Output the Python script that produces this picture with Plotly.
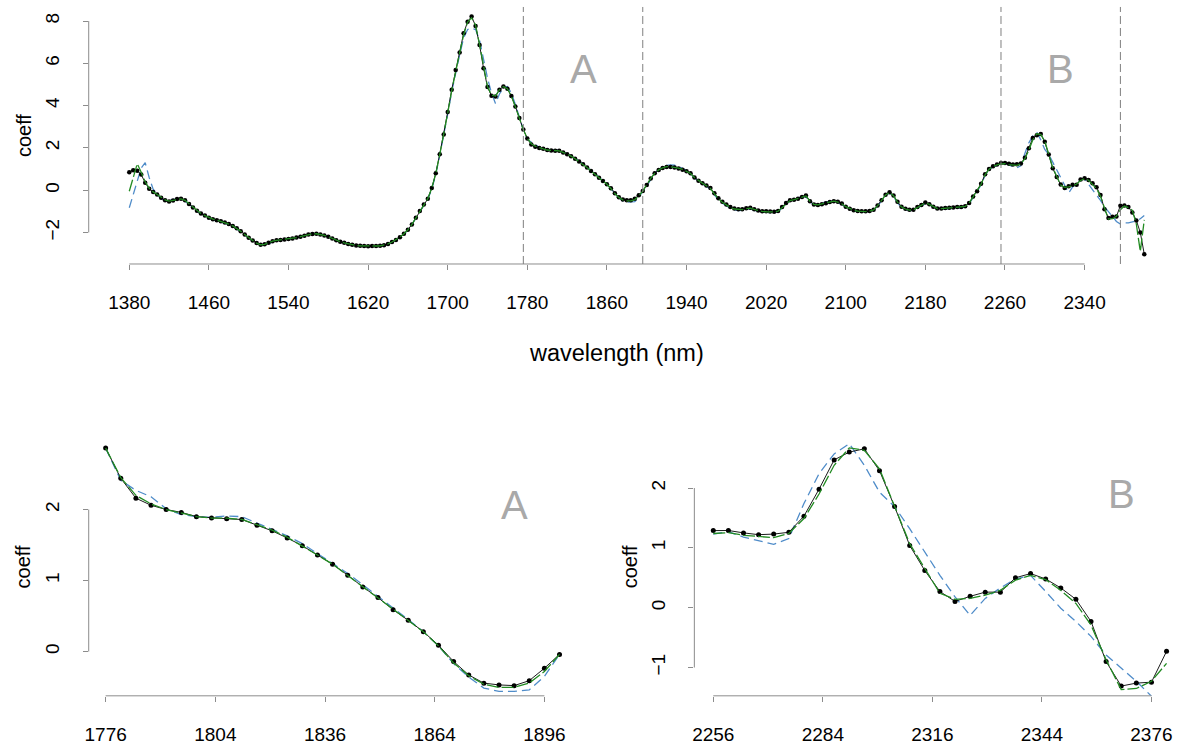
import plotly.graph_objects as go

W, H = 1182, 745

# ---------------- data ----------------
# wavelengths (nm), sampled every 4 nm
top_wl = list(range(1380, 2404, 4))          # 1380 .. 2400
A_wl = list(range(1776, 1900, 4))            # 1776 .. 1896
B_wl = list(range(2256, 2380, 4))            # 2256 .. 2376

top_xticks = [1380, 1460, 1540, 1620, 1700, 1780, 1860, 1940, 2020, 2100, 2180, 2260, 2340]
top_yticks = [-2, 0, 2, 4, 6, 8]
A_tickvals = [1776, 1805, 1834, 1863, 1892]
A_ticktext = ["1776", "1804", "1836", "1864", "1896"]
A_yticks = [0, 1, 2]
B_tickvals = [2256, 2285, 2314, 2343, 2372]
B_ticktext = ["2256", "2284", "2316", "2344", "2376"]
B_yticks = [-1, 0, 1, 2]

region_A = [1776, 1896]
region_B = [2256, 2376]

# region A (1776-1896)
A_black = [2.865, 2.44, 2.16, 2.06, 2.0, 1.96, 1.9, 1.88, 1.87, 1.86, 1.78, 1.70, 1.60, 1.49, 1.36, 1.23,
           1.076, 0.91, 0.76, 0.59, 0.44, 0.28, 0.09, -0.14, -0.33, -0.445, -0.47, -0.48, -0.41, -0.235, -0.04]
A_green = [2.865, 2.45, 2.2, 2.08, 2.0, 1.95, 1.9, 1.88, 1.88, 1.86, 1.79, 1.71, 1.61, 1.49, 1.36, 1.23,
           1.07, 0.91, 0.76, 0.59, 0.44, 0.28, 0.08, -0.16, -0.34, -0.46, -0.505, -0.505, -0.445, -0.28, -0.04]
A_blue = [2.865, 2.41, 2.27, 2.18, 2.01, 1.93, 1.9, 1.89, 1.91, 1.9, 1.81, 1.72, 1.63, 1.52, 1.38, 1.25,
          1.10, 0.94, 0.78, 0.61, 0.45, 0.28, 0.08, -0.17, -0.36, -0.515, -0.56, -0.56, -0.54, -0.35, -0.04]

# region B (2256-2376)
B_black = [1.288, 1.29, 1.25, 1.22, 1.23, 1.26, 1.53, 1.98, 2.47, 2.6, 2.655, 2.29, 1.69, 1.04, 0.62, 0.27,
           0.105, 0.19, 0.26, 0.26, 0.5, 0.57, 0.48, 0.33, 0.14, -0.23, -0.9, -1.31, -1.26, -1.245, -0.73]
B_green = [1.24, 1.255, 1.21, 1.19, 1.17, 1.24, 1.49, 1.9, 2.38, 2.67, 2.63, 2.32, 1.71, 1.07, 0.655, 0.24,
           0.14, 0.155, 0.21, 0.29, 0.46, 0.54, 0.47, 0.29, 0.07, -0.29, -0.87, -1.37, -1.35, -1.23, -0.93]
B_blue = [1.23, 1.27, 1.18, 1.12, 1.06, 1.155, 1.74, 2.24, 2.57, 2.74, 2.38, 1.93, 1.69, 1.32, 0.93, 0.54,
          0.18, -0.13, 0.155, 0.33, 0.48, 0.54, 0.27, -0.01, -0.23, -0.48, -0.79, -1.01, -1.23, -1.48, -1.6]

# 1380-1772
pre_black = [0.85, 0.94, 0.92, 0.74, 0.35, 0.07, -0.09, -0.2, -0.36, -0.47, -0.53, -0.49, -0.42, -0.40, -0.48, -0.65,
             -0.82, -0.97, -1.1, -1.2, -1.3, -1.37, -1.42, -1.47, -1.53, -1.6, -1.69, -1.8, -1.94, -2.1, -2.25, -2.38,
             -2.5, -2.58, -2.56, -2.48, -2.41, -2.37, -2.35, -2.33, -2.31, -2.28, -2.24, -2.2, -2.15, -2.1, -2.07, -2.06,
             -2.09, -2.14, -2.2, -2.28, -2.37, -2.44, -2.49, -2.54, -2.58, -2.61, -2.63, -2.64, -2.65, -2.64, -2.64, -2.63,
             -2.6, -2.54, -2.45, -2.35, -2.22, -2.06, -1.87, -1.62, -1.3, -0.98, -0.68, -0.4, 0.1, 0.8, 1.7, 2.63,
             3.7, 4.75, 5.69, 6.51, 7.42, 7.97, 8.21, 7.77, 6.87, 5.77, 4.88, 4.47, 4.43, 4.75, 4.91, 4.8,
             4.45, 3.96, 3.42]
pre_green = [-0.05, 0.6, 1.25, 0.85, 0.4, 0.1, -0.08, -0.2, -0.35, -0.46, -0.52, -0.49, -0.43, -0.41, -0.48, -0.64,
             -0.82, -0.97, -1.1, -1.2, -1.3, -1.37, -1.42, -1.47, -1.53, -1.6, -1.69, -1.8, -1.94, -2.1, -2.25, -2.38,
             -2.5, -2.58, -2.56, -2.48, -2.41, -2.37, -2.35, -2.33, -2.31, -2.28, -2.24, -2.2, -2.15, -2.1, -2.07, -2.06,
             -2.09, -2.14, -2.2, -2.28, -2.37, -2.44, -2.49, -2.54, -2.58, -2.61, -2.63, -2.64, -2.65, -2.64, -2.64, -2.63,
             -2.6, -2.54, -2.45, -2.35, -2.22, -2.06, -1.87, -1.62, -1.3, -0.98, -0.68, -0.4, 0.1, 0.78, 1.68, 2.6,
             3.65, 4.7, 5.65, 6.5, 7.35, 7.95, 8.15, 7.8, 6.9, 5.8, 4.9, 4.5, 4.45, 4.75, 4.9, 4.8,
             4.45, 3.95, 3.4]
pre_blue = [-0.83, -0.2, 0.45, 1.05, 1.3, 0.6, 0.05, -0.2, -0.4, -0.48, -0.46, -0.42, -0.42, -0.45, -0.52, -0.66,
            -0.84, -0.99, -1.12, -1.23, -1.33, -1.4, -1.45, -1.5, -1.56, -1.63, -1.72, -1.83, -1.97, -2.12, -2.27, -2.4,
            -2.52, -2.6, -2.6, -2.52, -2.44, -2.39, -2.36, -2.34, -2.32, -2.29, -2.25, -2.21, -2.16, -2.11, -2.08, -2.08,
            -2.1, -2.15, -2.21, -2.29, -2.38, -2.45, -2.5, -2.55, -2.59, -2.62, -2.64, -2.65, -2.66, -2.66, -2.65, -2.64,
            -2.61, -2.55, -2.46, -2.36, -2.23, -2.07, -1.88, -1.63, -1.32, -1.0, -0.7, -0.42, 0.05, 0.75, 1.65, 2.55,
            3.6, 4.65, 5.6, 6.4, 7.2, 7.6, 7.65, 7.6, 7.1, 6.2, 5.3, 4.6, 4.1, 4.55, 4.85, 4.9,
            4.6, 4.05, 3.45]

# 1900-2252
mid_black = [0.25, 0.55, 0.8, 0.95, 1.05, 1.1, 1.1, 1.07, 1.03, 0.97, 0.9, 0.8, 0.6, 0.45, 0.33, 0.22,
             0.1, -0.15, -0.38, -0.55, -0.68, -0.8, -0.87, -0.9, -0.9, -0.85, -0.83, -0.9, -0.96, -0.99, -1.0, -1.01,
             -1.02, -0.98, -0.8, -0.6, -0.48, -0.45, -0.4, -0.32, -0.25, -0.52, -0.68, -0.7, -0.66, -0.62, -0.56, -0.52,
             -0.55, -0.63, -0.78, -0.88, -0.95, -0.98, -1.0, -1.0, -0.98, -0.92, -0.72, -0.48, -0.22, -0.1, -0.25, -0.55,
             -0.78, -0.88, -0.93, -0.92, -0.8, -0.7, -0.58, -0.66, -0.78, -0.86, -0.86, -0.84, -0.83, -0.82, -0.8, -0.79,
             -0.76, -0.6, -0.3, -0.05, 0.3, 0.75, 1.0, 1.13, 1.22]
mid_green = [0.27, 0.56, 0.8, 0.96, 1.06, 1.11, 1.11, 1.08, 1.04, 0.98, 0.9, 0.79, 0.6, 0.45, 0.33, 0.21,
             0.08, -0.17, -0.4, -0.57, -0.7, -0.82, -0.89, -0.92, -0.92, -0.87, -0.85, -0.91, -0.97, -1.0, -1.02, -1.03,
             -1.03, -0.99, -0.82, -0.62, -0.49, -0.45, -0.39, -0.31, -0.27, -0.52, -0.67, -0.69, -0.65, -0.6, -0.55, -0.52,
             -0.56, -0.64, -0.78, -0.88, -0.95, -0.99, -1.01, -1.01, -0.99, -0.93, -0.73, -0.49, -0.23, -0.11, -0.26, -0.56,
             -0.79, -0.89, -0.94, -0.93, -0.81, -0.71, -0.6, -0.67, -0.79, -0.87, -0.87, -0.85, -0.84, -0.83, -0.81, -0.8,
             -0.77, -0.61, -0.32, -0.07, 0.28, 0.73, 0.99, 1.12, 1.2]
mid_blue = [0.2, 0.5, 0.8, 0.98, 1.1, 1.17, 1.2, 1.18, 1.12, 1.03, 0.92, 0.78, 0.58, 0.43, 0.3, 0.18,
            0.05, -0.22, -0.45, -0.62, -0.75, -0.86, -0.93, -0.96, -0.95, -0.9, -0.88, -0.95, -1.0, -1.03, -1.05, -1.06,
            -1.06, -1.02, -0.85, -0.65, -0.5, -0.43, -0.35, -0.3, -0.32, -0.55, -0.68, -0.66, -0.6, -0.56, -0.52, -0.52,
            -0.58, -0.67, -0.8, -0.9, -0.97, -1.0, -1.02, -1.02, -1.0, -0.94, -0.75, -0.5, -0.25, -0.13, -0.3, -0.6,
            -0.82, -0.92, -0.96, -0.95, -0.84, -0.74, -0.64, -0.7, -0.82, -0.9, -0.9, -0.88, -0.87, -0.86, -0.85, -0.84,
            -0.8, -0.64, -0.35, -0.1, 0.25, 0.7, 0.97, 1.1, 1.18]

# 2380-2400
post_black = [-0.72, -0.8, -1.05, -1.43, -2.0, -3.03]
post_green = [-0.75, -0.82, -0.95, -1.6, -2.9, -1.4]
post_blue = [-1.55, -1.55, -1.5, -1.45, -1.35, -1.2]

top_black = pre_black + A_black + mid_black + B_black + post_black
top_green = pre_green + A_green + mid_green + B_green + post_green
top_blue = pre_blue + A_blue + mid_blue + B_blue + post_blue

# ---------------- style ----------------
FONT = "Liberation Sans, Arial, sans-serif"
FS = 19
TITLE_FS = 20
XTITLE_FS = 23.5
AXIS_COL = "#8c8c8c"
GREEN = "#228b22"
BLUE = "#4f8cc9"
LABEL_GRAY = "#a9a9a9"


def pxx(p):
    return p / W


def pxy(p):
    return 1 - p / H


fig = go.Figure()


def add_series(x, black, green, blue, xa, ya, msize):
    fig.add_trace(go.Scatter(x=x, y=blue, mode="lines", xaxis=xa, yaxis=ya, hoverinfo="skip",
                             line=dict(color=BLUE, width=1.3, dash="9px,5px")))
    fig.add_trace(go.Scatter(x=x, y=black, mode="lines+markers", xaxis=xa, yaxis=ya, hoverinfo="skip",
                             line=dict(color="black", width=0.9),
                             marker=dict(color="black", size=msize)))
    fig.add_trace(go.Scatter(x=x, y=green, mode="lines", xaxis=xa, yaxis=ya, hoverinfo="skip",
                             line=dict(color=GREEN, width=1.3, dash="12px,3px")))


add_series(top_wl, top_black, top_green, top_blue, "x", "y", 4.5)
add_series(A_wl, A_black, A_green, A_blue, "x2", "y2", 5)
add_series(B_wl, B_black, B_green, B_blue, "x3", "y3", 5)

axis_common = dict(showgrid=False, zeroline=False, showline=False, ticks="outside", ticklen=5,
                   tickwidth=1, tickcolor=AXIS_COL,
                   tickfont=dict(family=FONT, size=FS, color="black"))

fig.update_layout(
    width=W, height=H, margin=dict(l=0, r=0, t=0, b=0),
    paper_bgcolor="white", plot_bgcolor="white", showlegend=False,
    xaxis=dict(domain=[pxx(85), 1.0], range=[1339.24, 2437.9], tickvals=top_xticks,
               anchor="y", ticklabelstandoff=16, **axis_common),
    yaxis=dict(domain=[pxy(264.7), pxy(7)], range=[-3.49, 8.665], tickvals=top_yticks,
               tickangle=-90, anchor="x", ticklabelstandoff=16, **axis_common),
    xaxis2=dict(domain=[pxx(85), pxx(575.5)], range=[1771.52, 1900.77], tickvals=A_tickvals,
                ticktext=A_ticktext, anchor="y2", ticklabelstandoff=16, **axis_common),
    yaxis2=dict(domain=[pxy(697.7), pxy(440)], range=[-0.6236, 2.996], tickvals=A_yticks,
                tickangle=-90, anchor="x2", ticklabelstandoff=16, **axis_common),
    xaxis3=dict(domain=[pxx(692.7), 1.0], range=[2250.99, 2380.09], tickvals=B_tickvals,
                ticktext=B_ticktext, anchor="y3", ticklabelstandoff=16, **axis_common),
    yaxis3=dict(domain=[pxy(697.7), pxy(440)], range=[-1.473, 2.822], tickvals=B_yticks,
                tickangle=-90, anchor="x3", ticklabelstandoff=16, **axis_common),
)

shapes = []
# R-style axis lines spanning first to last tick
for xa, ya, xt, yt in [("x", "y", top_xticks, top_yticks),
                       ("x2", "y2", A_tickvals, A_yticks),
                       ("x3", "y3", B_tickvals, B_yticks)]:
    shapes.append(dict(type="line", xref=xa, yref=ya + " domain", x0=xt[0], x1=xt[-1], y0=0, y1=0,
                       line=dict(color=AXIS_COL, width=1)))
    shapes.append(dict(type="line", xref=xa + " domain", yref=ya, x0=0, x1=0, y0=yt[0], y1=yt[-1],
                       line=dict(color=AXIS_COL, width=1)))
# region boundaries
for xv in region_A + region_B:
    shapes.append(dict(type="line", xref="x", yref="y domain", x0=xv, x1=xv, y0=0, y1=1,
                       line=dict(color="#7f7f7f", width=1, dash="8px,4px")))
fig.update_layout(shapes=shapes)


def label(text, x, y, size, color="black", angle=0, xref="paper"):
    return dict(text=text, x=x, y=y, xref=xref, yref="paper", textangle=angle,
                xanchor="center", yanchor="middle", showarrow=False,
                font=dict(family=FONT, size=size, color=color))


ann = [
    label("coeff", pxx(20), pxy(135.5), TITLE_FS, angle=-90),
    label("wavelength (nm)", pxx(614.5), pxy(354), XTITLE_FS),
    label("coeff", pxx(20), pxy(568), TITLE_FS, angle=-90),
    label("coeff", pxx(629), pxy(568), TITLE_FS, angle=-90),
    label("A", (region_A[0] + region_A[1]) / 2, pxy(69.5), 40, LABEL_GRAY, xref="x"),
    label("B", (region_B[0] + region_B[1]) / 2, pxy(69), 40, LABEL_GRAY, xref="x"),
    label("A", pxx(512.5), pxy(506), 40, LABEL_GRAY),
    label("B", pxx(1121), pxy(495), 40, LABEL_GRAY),
]
fig.update_layout(annotations=ann)

fig.write_html("out.html", config={"displayModeBar": False},
               post_script="document.body.style.margin='0';")
